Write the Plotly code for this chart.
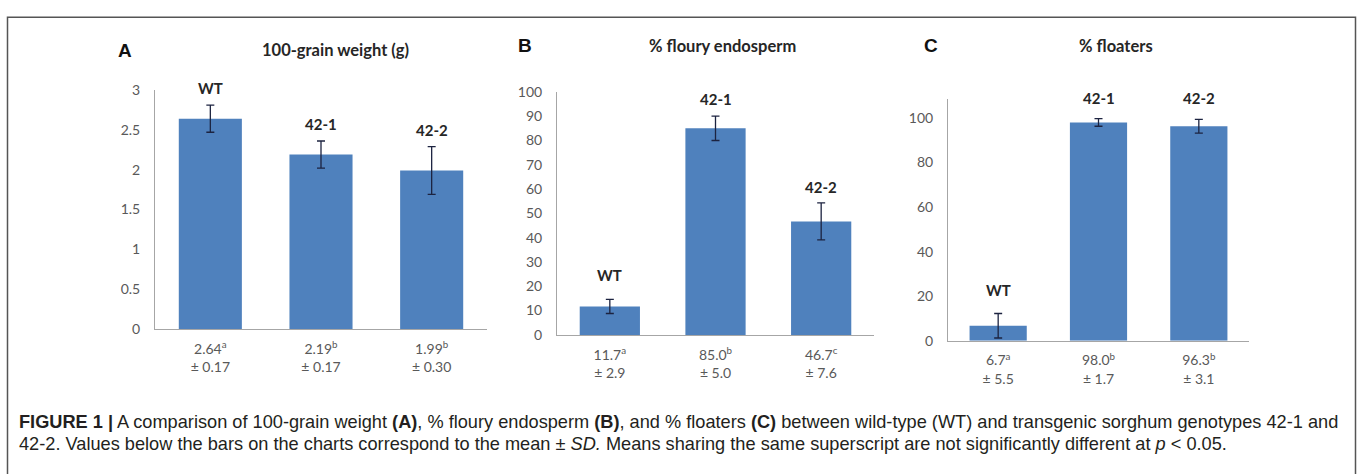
import plotly.graph_objects as go

W, H = 1358, 474

genotypes = ["WT", "42-1", "42-2"]

grain_weight = [2.64, 2.19, 1.99]
grain_weight_sd = [0.17, 0.17, 0.30]
grain_weight_sup = ["a", "b", "b"]

floury = [11.7, 85.0, 46.7]
floury_sd = [2.9, 5.0, 7.6]
floury_sup = ["a", "b", "c"]

floaters = [6.7, 98.0, 96.3]
floaters_sd = [5.5, 1.7, 3.1]
floaters_sup = ["a", "b", "b"]

titles = ["100-grain weight (g)", "% floury endosperm", "% floaters"]
letters = ["A", "B", "C"]

BAR = "#4f81bd"
ERR = "#1c2340"
AXC = "#a6a6a6"
TICKC = "#595959"
FONT = "Lato, Open Sans, sans-serif"


def px(x):
    return x / W


def py(y):
    return 1 - y / H


panels = [
    dict(x0=155, x1=487, ytop=84, yzero=332, ymax=3.0, dtick=0.5, tx=335, ty=43, lx=125,
         vals=grain_weight, sd=grain_weight_sd, sup=grain_weight_sup, fmt="{:.2f}", sdfmt="{:.2f}",
         shifts=[6, 6, 6]),
    dict(x0=557, x1=874, ytop=86, yzero=338, ymax=100, dtick=10, tx=722, ty=38, lx=525,
         vals=floury, sd=floury_sd, sup=floury_sup, fmt="{:.1f}", sdfmt="{:.1f}",
         shifts=[13, 6, 5]),
    dict(x0=948, x1=1249, ytop=93, yzero=344, ymax=108.7, dtick=20, tx=1116, ty=38, lx=931,
         vals=floaters, sd=floaters_sd, sup=floaters_sup, fmt="{:.1f}", sdfmt="{:.1f}",
         shifts=[13, 10, 10]),
]

fig = go.Figure()
annotations = []
layout_axes = {}

for i, p in enumerate(panels):
    n = "" if i == 0 else str(i + 1)
    xa = "x" + n
    ya = "y" + n
    fig.add_trace(go.Bar(
        x=genotypes, y=p["vals"], xaxis=xa, yaxis=ya,
        marker=dict(color=BAR, line=dict(width=0)),
        width=0.57,
        error_y=dict(type="data", array=p["sd"], visible=True, color=ERR, thickness=1.3, width=4),
        showlegend=False, hoverinfo="skip",
    ))
    ticktext = [
        f"{p['fmt'].format(v)}<sup>{s}</sup><br>± {p['sdfmt'].format(e)}"
        for v, e, s in zip(p["vals"], p["sd"], p["sup"])
    ]
    layout_axes["xaxis" + n] = dict(
        domain=[px(p["x0"]), px(p["x1"])], anchor=ya,
        type="category", range=[-0.5, 2.5],
        tickvals=genotypes, ticktext=ticktext,
        showline=True, linecolor=AXC, linewidth=1, ticks="",
        showgrid=False, zeroline=False,
        tickfont=dict(family=FONT, size=14, color=TICKC),
        ticklabelstandoff=7, fixedrange=True,
    )
    layout_axes["yaxis" + n] = dict(
        domain=[py(p["yzero"]), py(p["ytop"])], anchor=xa,
        range=[0, p["ymax"]], dtick=p["dtick"], tick0=0,
        showline=True, linecolor=AXC, linewidth=1, ticks="",
        showgrid=False, zeroline=False,
        tickfont=dict(family=FONT, size=14, color=TICKC),
        ticklabelstandoff=11, fixedrange=True,
    )
    for g, v, e, sh in zip(genotypes, p["vals"], p["sd"], p["shifts"]):
        annotations.append(dict(
            x=g, y=v + e, xref=xa, yref=ya, text=f"<b>{g}</b>", showarrow=False,
            yanchor="bottom", yshift=sh,
            font=dict(family=FONT, size=15, color="#262626"),
        ))
    annotations.append(dict(
        x=px(p["tx"]), y=py(p["ty"]), xref="paper", yref="paper",
        text=f"<b>{titles[i]}</b>", showarrow=False, xanchor="center", yanchor="middle",
        font=dict(family=FONT, size=16.5, color="#262626"),
    ))
    annotations.append(dict(
        x=px(p["lx"]), y=py(p["ty"]), xref="paper", yref="paper",
        text=f"<b>{letters[i]}</b>", showarrow=False, xanchor="center", yanchor="middle",
        font=dict(family="Liberation Sans, Arial, sans-serif", size=19, color="#111111"),
    ))

caption1 = ("<b>FIGURE 1 |</b> A comparison of 100-grain weight <b>(A)</b>, % floury endosperm <b>(B)</b>, "
            "and % floaters <b>(C)</b> between wild-type (WT) and transgenic sorghum genotypes 42-1 and")
caption2 = ("42-2. Values below the bars on the charts correspond to the mean ± <i>SD.</i> "
            "Means sharing the same superscript are not significantly different at <i>p</i> &lt; 0.05.")
CAPF = dict(family="Liberation Sans, Arial, sans-serif", size=18.2, color="#231f20")
annotations.append(dict(x=px(17), y=py(428), xref="paper", yref="paper", text=caption1,
                        showarrow=False, xanchor="left", yanchor="middle", font=CAPF))
annotations.append(dict(x=px(17), y=py(451), xref="paper", yref="paper", text=caption2,
                        showarrow=False, xanchor="left", yanchor="middle", font=CAPF))

shapes = [dict(
    type="path", xref="paper", yref="paper",
    path=f"M {px(7.5)} {py(490)} L {px(7.5)} {py(8.5)} L {px(1355.5)} {py(8.5)} L {px(1355.5)} {py(490)}",
    line=dict(color="#555555", width=1.5),
)]

fig.update_layout(
    width=W, height=H,
    margin=dict(l=0, r=0, t=0, b=0),
    paper_bgcolor="white", plot_bgcolor="white",
    annotations=annotations, shapes=shapes,
    **layout_axes,
)

fig.write_html("out.html", config={"displayModeBar": False},
               post_script="document.body.style.margin='0';")
